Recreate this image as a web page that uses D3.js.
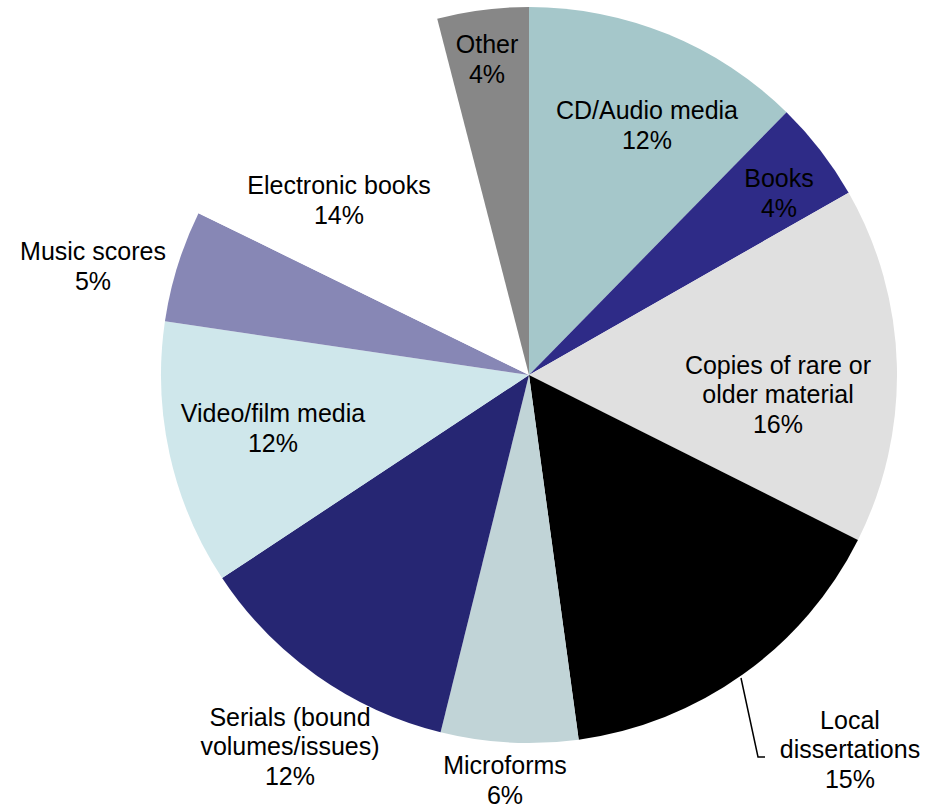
<!DOCTYPE html>
<html><head><meta charset="utf-8">
<script src="https://cdn.jsdelivr.net/npm/d3@7"></script>
<style>body{margin:0;background:#fff}</style>
</head><body>
<svg id="chart" width="940" height="808"></svg>
<script>
const categories = ["CD/Audio media","Books","Copies of rare or older material","Local dissertations","Microforms","Serials (bound volumes/issues)","Video/film media","Music scores","Electronic books","Other"];
const values = [12.3, 4.4, 15.6, 15.4, 6.0, 11.8, 11.6, 4.9, 13.7, 4.0];
const labelLines = [["CD/Audio media"],["Books"],["Copies of rare or","older material"],["Local","dissertations"],["Microforms"],["Serials (bound","volumes/issues)"],["Video/film media"],["Music scores"],["Electronic books"],["Other"]];
const colors = ["#A5C7CA","#2E2B87","#E0E0E0","#000000","#C1D4D7","#262673","#CFE7EB","#8787B5","#FFFFFF","#878787"];
// label block centres (layout, px)
const labelPos = [[647,125],[779,193],[778,394],[850,749],[505,780],[290,746],[273,428],[93,266],[339,200],[487,59]];

const cx = 529, cy = 375, R = 368, lh = 29.5;
const svg = d3.select("#chart");
const pie = d3.pie().value(d => d).sort(null);
const arc = d3.arc().innerRadius(0).outerRadius(R);
const arcs = pie(values);
const g = svg.append("g").attr("transform", `translate(${cx},${cy})`);
g.selectAll("path").data(arcs).enter().append("path")
  .attr("d", arc).attr("fill", (d,i) => colors[i]);

// leader line for Local dissertations
svg.append("polyline")
  .attr("points", "741,678 758,757 765,757")
  .attr("fill","none").attr("stroke","#000").attr("stroke-width",1.5);

arcs.forEach((d,i) => {
  const lines = labelLines[i].concat([Math.round(values[i]) + "%"]);
  const [x,y] = labelPos[i];
  const t = svg.append("text").attr("text-anchor","middle")
    .attr("font-family","Liberation Sans, Arial, sans-serif").attr("font-size",25).attr("fill","#000");
  lines.forEach((s,k) => {
    t.append("tspan").attr("x", x).attr("y", y + (k - (lines.length-1)/2) * lh)
      .attr("dominant-baseline","central").text(s);
  });
});
</script>
</body></html>
